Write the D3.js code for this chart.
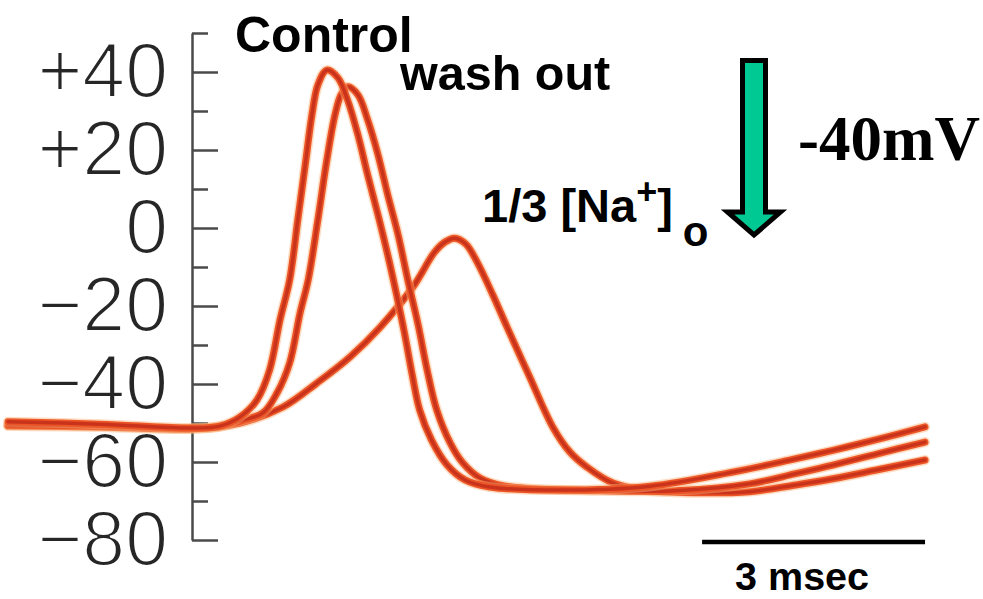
<!DOCTYPE html>
<html>
<head>
<meta charset="utf-8">
<script src="https://cdn.jsdelivr.net/npm/d3@7"></script>
<style>
  body { margin: 0; background: #fff; }
  svg { display: block; }
</style>
</head>
<body>
<div id="chart"></div>
<script>
// membrane potential traces, [time (ms), potential (mV)]
const controlTrace = [
  [0, -49.7], [1.24, -50.3], [2.48, -51.3], [2.85, -50.8], [3.12, -48.5], [3.35, -44.1],
  [3.52, -36.4], [3.66, -23.6], [3.79, -13.3], [3.90, 2.1], [4.00, 16.2], [4.09, 29.0],
  [4.17, 36.7], [4.29, 40.5], [4.44, 38.5], [4.57, 32.8], [4.71, 23.8], [4.84, 13.6],
  [4.98, 3.3], [5.11, -6.9], [5.23, -17.2], [5.34, -27.4], [5.44, -37.7], [5.54, -46.7],
  [5.70, -54.4], [5.91, -60.8], [6.15, -64.6], [6.48, -66.4], [7.43, -67.2], [8.64, -66.2],
  [9.75, -62.6], [10.5, -59.6], [11.10, -57.0], [11.7, -54.2], [12.34, -51.0]
];
const washoutTrace = [
  [0, -50.5], [1.24, -50.8], [2.48, -51.5], [2.85, -51.0], [3.12, -49.5], [3.43, -47.4],
  [3.62, -42.3], [3.79, -34.6], [3.93, -21.8], [4.04, -13.3], [4.17, 2.1], [4.29, 17.4],
  [4.40, 29.0], [4.48, 34.1], [4.57, 36.2], [4.71, 34.1], [4.84, 27.7], [4.98, 18.7],
  [5.11, 8.5], [5.25, -1.8], [5.38, -13.3], [5.52, -24.9], [5.64, -36.4], [5.77, -46.7],
  [5.95, -55.1], [6.11, -60.0], [6.35, -64.1], [6.69, -66.2], [7.96, -67.4], [9.04, -67.3],
  [9.98, -65.6], [10.6, -63.0], [11.10, -60.8], [11.7, -57.9], [12.34, -54.9]
];
const lowNaTrace = [
  [0, -50.8], [1.24, -51.0], [2.48, -51.5], [3.12, -50.0], [3.70, -45.9], [4.16, -39.7],
  [4.60, -33.1], [5.00, -25.6], [5.45, -15.1], [5.74, -6.2], [5.88, -3.6], [6.01, -2.6],
  [6.16, -4.1], [6.32, -9.0], [6.52, -17.0], [6.72, -25.6], [7.02, -38.2], [7.33, -51.0],
  [7.56, -57.4], [7.79, -61.3], [8.14, -65.4], [8.64, -67.4], [9.31, -67.9], [9.98, -67.6],
  [10.6, -65.9], [11.10, -64.3], [11.7, -62.0], [12.34, -59.5]
];

const yMajorTicks = [-80, -60, -40, -20, 0, 20, 40];
const yMinorTicks = [-70, -50, -30, -10, 10, 30, 50];
const yTickLabels = ["\u221280", "\u221260", "\u221240", "\u221220", "0", "+20", "+40"];
const scaleBarMs = [9.34, 12.34];
const scaleBarLabel = "3 msec";

const width = 983, height = 599;

const svg = d3.select("#chart").append("svg")
  .attr("width", width)
  .attr("height", height)
  .style("background", "#fff");

const x = d3.scaleLinear().domain([0, 13.12]).range([8, 983]);
const y = d3.scaleLinear().domain([-80, 50]).range([540, 33]);

// y axis : long ticks every 20 mV, short ones in between
const axisG = svg.append("g").attr("transform", "translate(192,0)");

axisG.append("g")
  .call(d3.axisRight(y).tickValues(yMajorTicks).tickSize(26).tickSizeOuter(0).tickFormat(""))
  .call(g => g.selectAll("line, path").attr("stroke", "#4a4a4a").attr("stroke-width", 2.5));

axisG.append("g")
  .call(d3.axisRight(y).tickValues(yMinorTicks).tickSize(16).tickFormat(""))
  .call(g => g.select(".domain").remove())
  .call(g => g.selectAll("line").attr("stroke", "#4a4a4a").attr("stroke-width", 2.5));

// thin white outline over the glyphs makes the labels look lighter
axisG.append("g")
  .call(d3.axisLeft(y).tickValues(yMajorTicks).tickSize(0).tickPadding(24)
    .tickFormat((d, i) => yTickLabels[i]))
  .call(g => g.select(".domain").remove())
  .call(g => g.selectAll("text")
    .attr("font-family", "Liberation Sans, Arial, sans-serif")
    .attr("font-size", 77)
    .attr("fill", "#262626")
    .attr("stroke", "#fff")
    .attr("stroke-width", 2.2));

// traces
const line = d3.line()
  .x(d => x(d[0]))
  .y(d => y(d[1]))
  .curve(d3.curveCatmullRom.alpha(0.5));

const traces = [lowNaTrace, washoutTrace, controlTrace];
const tracesG = svg.append("g").attr("fill", "none").attr("stroke-linecap", "round");

traces.forEach(tr => {
  tracesG.append("path").attr("d", line(tr))
    .attr("stroke", "#f9b27a").attr("stroke-width", 10).attr("opacity", 0.45);
  tracesG.append("path").attr("d", line(tr))
    .attr("stroke", "#ec5526").attr("stroke-width", 7);
  tracesG.append("path").attr("d", line(tr))
    .attr("stroke", "#c9331c").attr("stroke-width", 3.5);
});

// labels
const sans = "Liberation Sans, Arial, sans-serif";

svg.append("text")
  .attr("x", 235).attr("y", 52)
  .attr("font-family", sans).attr("font-weight", "bold").attr("font-size", 50)
  .text("Control");

svg.append("text")
  .attr("x", 400).attr("y", 90)
  .attr("font-family", sans).attr("font-weight", "bold").attr("font-size", 48.5)
  .text("wash out");

const naLabel = svg.append("text")
  .attr("x", 482).attr("y", 222)
  .attr("font-family", sans).attr("font-weight", "bold").attr("font-size", 47);
naLabel.append("tspan").text("1/3 [Na");
naLabel.append("tspan").attr("font-size", 36).attr("dy", -18).text("+");
naLabel.append("tspan").attr("dy", 18).text("]");
naLabel.append("tspan").attr("font-size", 42).attr("dx", 10).attr("dy", 24).text("o");

// green arrow
svg.append("polygon")
  .attr("points", [[742.5, 60.5], [765.5, 60.5], [765.5, 212], [780.5, 212], [754, 235],
                   [727.5, 212], [742.5, 212]].map(p => p.join(",")).join(" "))
  .attr("fill", "#00c994")
  .attr("stroke", "#000")
  .attr("stroke-width", 5)
  .attr("stroke-linejoin", "miter");

svg.append("text")
  .attr("x", 798).attr("y", 160)
  .attr("font-family", "Liberation Serif, Times New Roman, serif")
  .attr("font-weight", "bold").attr("font-size", 63)
  .text("-40mV");

// scale bar
svg.append("line")
  .attr("x1", x(scaleBarMs[0])).attr("x2", x(scaleBarMs[1]))
  .attr("y1", 542).attr("y2", 542)
  .attr("stroke", "#000").attr("stroke-width", 4.5);

svg.append("text")
  .attr("x", x(scaleBarMs[0]) + 33).attr("y", 590)
  .attr("font-family", sans).attr("font-weight", "bold").attr("font-size", 39.5)
  .text(scaleBarLabel);
</script>
</body>
</html>
